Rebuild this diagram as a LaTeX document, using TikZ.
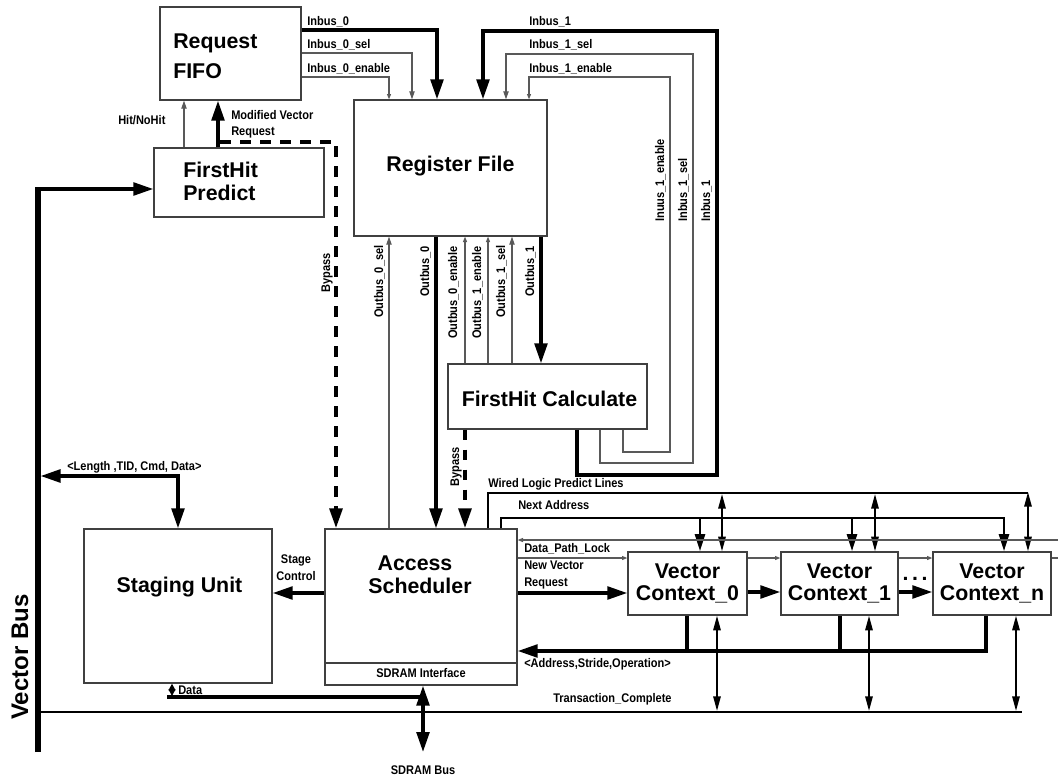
\documentclass[tikz,border=0pt]{standalone}
\usepackage{fontspec}
\newfontfamily\lblfont[FakeStretch=0.88]{Liberation Sans Bold}
\newfontfamily\boxfont{Liberation Sans Bold}
\usetikzlibrary{arrows.meta}
\begin{document}
\begin{tikzpicture}[x=0.75pt,y=-0.75pt,
 bx/.style 2 args={draw=black!75,line width=1pt,inner sep=0pt,minimum width={#1*0.75pt},minimum height={#2*0.75pt}},
 lbl/.style={inner sep=0pt,font=\lblfont\fontsize{9.4}{11}\selectfont},
 big/.style={inner sep=0pt,font=\boxfont\fontsize{16}{19}\selectfont},
 thk/.style={line width=2.6pt,line join=miter},
 thn/.style={line width=0.8pt,draw=black!65},
 dsh/.style={line width=3pt,dash pattern=on 8pt off 7pt},
 na/.style={line width=2.2pt},
 wl/.style={line width=1.6pt},
 tcl/.style={line width=1.8pt},
 abig/.style={arrows={-Triangle[length=15pt,width=9.5pt]}},
 dbig/.style={arrows={Triangle[length=15pt,width=9.5pt]-Triangle[length=15pt,width=9.5pt]}},
 anext/.style={arrows={-Triangle[length=13pt,width=7.5pt]}},
 asml/.style={arrows={-Triangle[length=6pt,width=4pt]}},
 atiny/.style={arrows={-Triangle[length=4pt,width=3pt]}},
 dmed/.style={line width=1.4pt,arrows={Triangle[length=11pt,width=5.5pt]-Triangle[length=11pt,width=5.5pt]}},
 dsm/.style={line width=1.4pt,arrows={Triangle[length=5pt,width=5pt]-Triangle[length=5pt,width=5pt]}}
]
\useasboundingbox (0,0) rectangle (1058,782);

% boxes
\node[bx={141}{93}] (fifo) at (230.5,53.5) {};
\node[bx={170}{69}] (fhp) at (239,182.5) {};
\node[bx={193}{136}] (rf) at (450.5,168) {};
\node[bx={199}{65}] (fhc) at (547.5,396.5) {};
\node[bx={188}{154}] (su) at (178,606) {};
\node[bx={192}{156}] (as) at (421,607) {};
\node[bx={119}{63}] (vc0) at (687.5,583.5) {};
\node[bx={117}{63}] (vc1) at (839.5,583.5) {};
\node[bx={118}{63}] (vcn) at (992,583.5) {};
\draw[draw=black!75,line width=1pt] (as.west |- 0,663) -- (as.east |- 0,663);

% box texts
\node[big,anchor=base west] (t-req) at (173,48) {Request};
\node[big,anchor=base west] (t-fifo) at (173,78) {FIFO};
\node[big,anchor=base west] (t-fh1) at (183,177) {FirstHit};
\node[big,anchor=base west] (t-fh2) at (183,200) {Predict};
\node[big,anchor=base] (t-rf) at (450.5,171) {Register File};
\node[big,anchor=base] (t-fhc) at (549.5,406) {FirstHit Calculate};
\node[big,anchor=base] (t-su) at (179.5,592) {Staging Unit};
\node[big,anchor=base] (t-as1) at (415,570) {Access};
\node[big,anchor=base] (t-as2) at (420,593) {Scheduler};
\node[big,anchor=base] (t-v0a) at (687.5,578) {Vector};
\node[big,anchor=base] (t-v0b) at (687.5,600) {Context\_0};
\node[big,anchor=base] (t-v1a) at (839.5,578) {Vector};
\node[big,anchor=base] (t-v1b) at (839.5,600) {Context\_1};
\node[big,anchor=base] (t-vna) at (992,578) {Vector};
\node[big,anchor=base] (t-vnb) at (992,600) {Context\_n};
\node[big,anchor=base] (dots) at (915,580) {.\,.\,.};
\node[inner sep=0pt,font=\boxfont\fontsize{18}{20}\selectfont,rotate=90,anchor=base] (l-vb) at (28,657) {Vector Bus};

% small labels
\node[lbl,anchor=base west] (l-i0) at (307,25) {Inbus\_0};
\node[lbl,anchor=base west] (l-i0s) at (307,48) {Inbus\_0\_sel};
\node[lbl,anchor=base west] (l-i0e) at (307,72) {Inbus\_0\_enable};
\node[lbl,anchor=base west] (l-i1) at (529,25) {Inbus\_1};
\node[lbl,anchor=base west] (l-i1s) at (529,48) {Inbus\_1\_sel};
\node[lbl,anchor=base west] (l-i1e) at (529,72) {Inbus\_1\_enable};
\node[lbl,anchor=base west] (l-hit) at (118,124) {Hit/NoHit};
\node[lbl,anchor=base west] (l-mv1) at (231,119) {Modified Vector};
\node[lbl,anchor=base west] (l-mv2) at (231,135) {Request};
\node[lbl,rotate=90,anchor=base west] (l-v1e) at (664,222) {Inuus\_1\_enable};
\node[lbl,rotate=90,anchor=base west] (l-v1s) at (687,222) {Inbus\_1\_sel};
\node[lbl,rotate=90,anchor=base west] (l-v1) at (710,222) {Inbus\_1};
\node[lbl,rotate=90,anchor=base west] (l-o0s) at (383,318) {Outbus\_0\_sel};
\node[lbl,rotate=90,anchor=base west] (l-o0) at (429,297) {Outbus\_0};
\node[lbl,rotate=90,anchor=base west] (l-o0e) at (457,339) {Outbus\_0\_enable};
\node[lbl,rotate=90,anchor=base west] (l-o1e) at (481,339) {Outbus\_1\_enable};
\node[lbl,rotate=90,anchor=base west] (l-o1s) at (505,318) {Outbus\_1\_sel};
\node[lbl,rotate=90,anchor=base west] (l-o1) at (534,297) {Outbus\_1};
\node[lbl,rotate=90,anchor=base west] (l-by1) at (330,293) {Bypass};
\node[lbl,rotate=90,anchor=base west] (l-by2) at (459,487) {Bypass};
\node[lbl,anchor=base west] (l-len) at (67,470) {<Length ,TID, Cmd, Data>};
\node[lbl,anchor=base] (l-st1) at (296,563) {Stage};
\node[lbl,anchor=base] (l-st2) at (296,580) {Control};
\node[lbl,anchor=base west] (l-wl) at (488,487) {Wired Logic Predict Lines};
\node[lbl,anchor=base west] (l-na) at (518,509) {Next Address};
\node[lbl,anchor=base west] (l-dpl) at (524,552) {Data\_Path\_Lock};
\node[lbl,anchor=base west] (l-nv1) at (524,569) {New Vector};
\node[lbl,anchor=base west] (l-nv2) at (524,586) {Request};
\node[lbl,anchor=base west] (l-asop) at (524,667) {<Address,Stride,Operation>};
\node[lbl,anchor=base west] (l-data) at (178,694) {Data};
\node[lbl,anchor=base west] (l-tc) at (553,702) {Transaction\_Complete};
\node[lbl,anchor=base] (l-sdi) at (421,677) {SDRAM Interface};
\node[lbl,anchor=base] (l-sdb) at (423,774) {SDRAM Bus};

% coordinates for free ends
\coordinate (byp) at (220,142);
\coordinate (vbtop) at (38,189);
\coordinate (vbbot) at (38,752);
\coordinate (lenend) at (40.5,476);
\coordinate (dplR) at (1058,540);
\coordinate (chainR) at (1058,558);
\coordinate (sdbot) at (423,752);

% Inbus_0
\draw[thk,abig] (fifo.east |- 0,30) -| (437,0 |- rf.north);
\draw[thn,asml] (fifo.east |- 0,53) -| (412,0 |- rf.north);
\draw[thn,atiny] (fifo.east |- 0,77) -| (389,0 |- rf.north);
% Inbus_1 loops
\draw[thk,abig] (577,0 |- fhc.south) |- (717,475) |- (483,31) -- (483,0 |- rf.north);
\draw[thn,asml] (600,0 |- fhc.south) |- (693,463) |- (506,54) -- (506,0 |- rf.north);
\draw[thn,atiny] (623,0 |- fhc.south) |- (670,452) |- (529,77) -- (529,0 |- rf.north);
% predict -> fifo
\draw[thn,asml] (184,0 |- fhp.north) -- (184,0 |- fifo.south);
\draw[thk,abig] (218,0 |- fhp.north) -- (218,0 |- fifo.south);
\draw[dsh,abig] (byp) -| (336,0 |- as.north);
% outbus
\draw[thn,asml] (389,0 |- as.north) -- (389,0 |- rf.south);
\draw[thk,abig] (436,0 |- rf.south) -- (436,0 |- as.north);
\draw[thn,atiny] (465,0 |- fhc.north) -- (465,0 |- rf.south);
\draw[thn,atiny] (488,0 |- fhc.north) -- (488,0 |- rf.south);
\draw[thn,asml] (512,0 |- fhc.north) -- (512,0 |- rf.south);
\draw[thk,abig] (541,0 |- rf.south) -- (541,0 |- fhc.north);
\draw[dsh,abig] (465,0 |- fhc.south) -- (465,0 |- as.north);
% vector bus
\draw[line width=4.3pt] (vbbot) -- ([yshift=1.6pt]vbtop);
\draw[thk,abig] ([xshift=-1.6pt]vbtop) -- (fhp.west |- vbtop);
\draw[thk,dbig] (lenend) -| (178,0 |- su.north);
% stage control
\draw[thk,abig] (as.west |- 0,593) -- (su.east |- 0,593);
% wired logic
\draw[wl] (488,0 |- as.north) |- (1028,493);
\draw[dmed] (722,494) -- (722,0 |- vc0.north);
\draw[dmed] (875,494) -- (875,0 |- vc1.north);
\draw[dmed] (1028,492) -- (1028,0 |- vcn.north);
% next address
\draw[na,anext] (501,0 |- as.north) |- (1004,518) -- (1004,0 |- vcn.north);
\draw[na,anext] (700,518) -- (700,0 |- vc0.north);
\draw[na,anext] (852,518) -- (852,0 |- vc1.north);
% data path lock & chain
\draw[thn,atiny] (dplR) -- (as.east |- dplR);
\draw[thn,atiny] (as.east |- chainR) -- (vc0.west |- chainR);
\draw[thn,atiny] (vc0.east |- chainR) -- (vc1.west |- chainR);
\draw[thn,atiny] (vc1.east |- chainR) -- (vcn.west |- chainR);
\draw[thn] (vcn.east |- chainR) -- (chainR);
% new vector request & context chain
\draw[thk,abig] (as.east |- 0,593) -- (vc0.west |- 0,593);
\draw[thk,abig] (vc0.east |- 0,592) -- (vc1.west |- 0,592);
\draw[thk,abig] (vc1.east |- 0,592) -- (vcn.west |- 0,592);
% address stride operation
\draw[thk,abig] (986,0 |- vcn.south) |- (as.east |- 0,651);
\draw[thk] (687,0 |- vc0.south) -- (687,651);
\draw[thk] (840,0 |- vc1.south) -- (840,651);
% transaction complete
\draw[tcl] (38,712) -- (1022,712);
\draw[dmed] (717,0 |- vc0.south) -- (717,711);
\draw[dmed] (869,0 |- vc1.south) -- (869,711);
\draw[dmed] (1016,0 |- vcn.south) -- (1016,711);
% SDRAM bus & data
\draw[thk,dbig] (423,0 |- as.south) -- (sdbot);
\draw[thk] (167,697) -- (424,697);
\draw[dsm] (172,0 |- su.south) -- (172,696);
\end{tikzpicture}
\end{document}
